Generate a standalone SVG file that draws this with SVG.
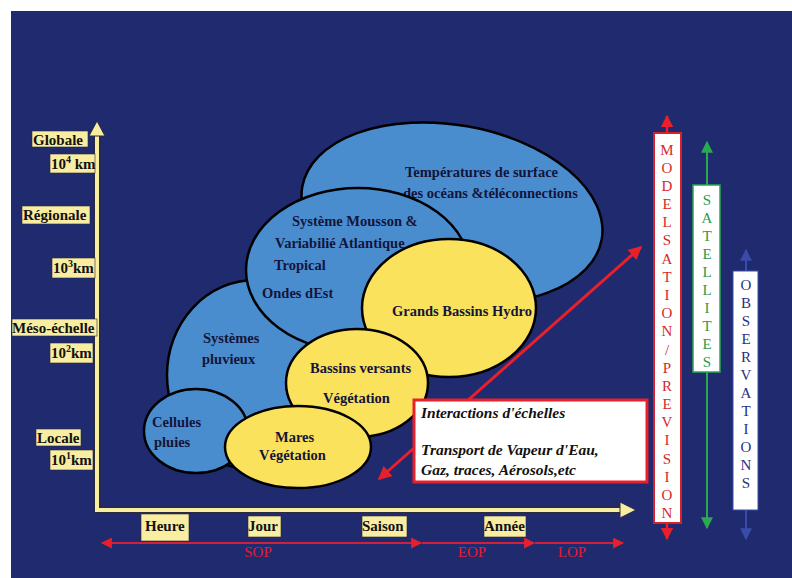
<svg xmlns="http://www.w3.org/2000/svg" width="792" height="578" viewBox="0 0 792 578">
<style>
.lbl{font-family:"Liberation Serif","Times New Roman",serif;font-weight:bold;font-size:15px;fill:#111}
.et{font-family:"Liberation Serif","Times New Roman",serif;font-weight:bold;font-size:14.5px;fill:#14143a}
.box{fill:#f9eda2;stroke:#2a2a40;stroke-width:0.6}
.blue{fill:#4a8dcf;stroke:#000;stroke-width:2.5}
.yel{fill:#fbe25c;stroke:#000;stroke-width:2.5}
.it{font-family:"Liberation Serif","Times New Roman",serif;font-weight:bold;font-style:italic;font-size:15.5px;fill:#111}
.vt{font-family:"Liberation Serif","Times New Roman",serif;font-size:15px;text-anchor:middle}
.tl{font-family:"Liberation Serif","Times New Roman",serif;font-size:15px;fill:#e0202c;text-anchor:middle}
</style>
<defs>
<marker id="ar" viewBox="0 0 10 10" refX="9" refY="5" markerWidth="5.5" markerHeight="5.5" orient="auto-start-reverse"><path d="M0,0 L10,5 L0,10 z" fill="#e8202c"/></marker>
<marker id="am" viewBox="0 0 10 10" refX="9" refY="5" markerWidth="5" markerHeight="5" orient="auto-start-reverse"><path d="M0,0 L10,5 L0,10 z" fill="#e8202c"/></marker>
<marker id="ag" viewBox="0 0 10 10" refX="9" refY="5" markerWidth="6" markerHeight="6" orient="auto-start-reverse"><path d="M0,0 L10,5 L0,10 z" fill="#2aa852"/></marker>
<marker id="ab" viewBox="0 0 10 10" refX="9" refY="5" markerWidth="6" markerHeight="6" orient="auto-start-reverse"><path d="M0,0 L10,5 L0,10 z" fill="#3a4ca8"/></marker>
<marker id="ad" viewBox="0 0 10 10" refX="9" refY="5" markerWidth="4.5" markerHeight="4.5" orient="auto-start-reverse"><path d="M0,0 L10,5 L0,10 z" fill="#e8202c"/></marker>
</defs>
<rect x="0" y="0" width="792" height="578" fill="#fff"/>
<rect x="11" y="11" width="781" height="567" fill="#1f2a6f"/>

<g id="ellipses">
<g id="e-temperatures"><ellipse class="blue" cx="452" cy="213" rx="152" ry="88" transform="rotate(10 452 213)"/>
<text class="et" x="405" y="177">Températures de  surface</text>
<text class="et" x="403" y="198">des océans &amp;téléconnections</text></g>
<g id="e-systemes"><ellipse class="blue" cx="255" cy="375" rx="88" ry="95"/>
<text class="et" x="203" y="343">Systèmes</text>
<text class="et" x="202" y="364">pluvieux</text></g>
<g id="e-mousson"><ellipse class="blue" cx="358" cy="270" rx="112" ry="82"/>
<text class="et" x="292" y="226">Système Mousson &amp;</text>
<text class="et" x="275" y="248">Variabilié Atlantique</text>
<text class="et" x="274" y="270">Tropical</text>
<text class="et" x="262" y="298">Ondes dEst</text></g>
<g id="e-cellules"><ellipse class="blue" cx="196" cy="431" rx="52" ry="42"/>
<text class="et" x="152" y="427">Cellules</text>
<text class="et" x="154" y="447">pluies</text></g>
<g id="e-grands"><ellipse class="yel" cx="449" cy="308" rx="87" ry="69"/>
<text class="et" x="392" y="316">Grands Bassins Hydro</text></g>
<g id="e-bassins"><ellipse class="yel" cx="357" cy="383" rx="71" ry="54"/>
<text class="et" x="310" y="373">Bassins versants</text>
<text class="et" x="323" y="403">Végétation</text></g>
<g id="e-mares"><ellipse class="yel" cx="298" cy="447" rx="73" ry="41"/>
<text class="et" x="275" y="442">Mares</text>
<text class="et" x="259" y="460">Végétation</text></g>
</g>

<g id="connectors">
<line x1="379" y1="479" x2="641" y2="247" stroke="#e8202c" stroke-width="3" marker-start="url(#ad)" marker-end="url(#ad)"/>
<line x1="667" y1="116" x2="667" y2="539" stroke="#e8202c" stroke-width="2.5" marker-start="url(#am)" marker-end="url(#am)"/>
<line x1="707" y1="142" x2="707" y2="528" stroke="#2aa852" stroke-width="2" marker-start="url(#ag)" marker-end="url(#ag)"/>
<line x1="746" y1="250" x2="746" y2="539" stroke="#3a4ca8" stroke-width="2" marker-start="url(#ab)" marker-end="url(#ab)"/>
<line x1="102" y1="543" x2="421" y2="543" stroke="#d0203c" stroke-width="2" marker-start="url(#ar)" marker-end="url(#ar)"/>
<line x1="422" y1="543" x2="534" y2="543" stroke="#d0203c" stroke-width="2" marker-end="url(#ar)"/>
<line x1="535" y1="543" x2="623" y2="543" stroke="#d0203c" stroke-width="2" marker-end="url(#ar)"/>
</g>

<g id="axes">
<path d="M97,132 L97,510 L622,510" fill="none" stroke="#2a2a40" stroke-width="7"/>
<path d="M97,132 L97,510 L622,510" fill="none" stroke="#f9eda2" stroke-width="4"/>
<polygon points="89,136 105,136 97,121" fill="#f9eda2" stroke="#2a2a40" stroke-width="1"/>
<polygon points="620,502 620,518 636,510" fill="#f9eda2" stroke="#2a2a40" stroke-width="1"/>
</g>

<g id="y-labels">
<g id="l-globale"><rect class="box" x="32" y="131" width="56" height="16"/><text class="lbl" x="33" y="145">Globale</text></g>
<g id="l-104"><rect class="box" x="50" y="154" width="45" height="19"/><text class="lbl" x="51" y="169">10<tspan font-size="10" dy="-6">4</tspan><tspan dy="6"> km</tspan></text></g>
<g id="l-regionale"><rect class="box" x="22" y="206" width="68" height="18"/><text class="lbl" x="23" y="220">Régionale</text></g>
<g id="l-103"><rect class="box" x="52" y="258" width="43" height="20"/><text class="lbl" x="53" y="273">10<tspan font-size="10" dy="-6">3</tspan><tspan dy="6">km</tspan></text></g>
<g id="l-meso"><rect class="box" x="12" y="319" width="85" height="17"/><text class="lbl" x="12" y="333">Méso-échelle</text></g>
<g id="l-102"><rect class="box" x="50" y="343" width="43" height="20"/><text class="lbl" x="51" y="358">10<tspan font-size="10" dy="-6">2</tspan><tspan dy="6">km</tspan></text></g>
<g id="l-locale"><rect class="box" x="36" y="429" width="45" height="17"/><text class="lbl" x="37" y="443">Locale</text></g>
<g id="l-101"><rect class="box" x="50" y="450" width="43" height="20"/><text class="lbl" x="51" y="465">10<tspan font-size="10" dy="-6">1</tspan><tspan dy="6">km</tspan></text></g>
</g>

<g id="x-labels">
<g id="l-heure"><rect class="box" x="141" y="514" width="48" height="27"/><text class="lbl" x="145" y="531">Heure</text></g>
<g id="l-jour"><rect class="box" x="248" y="516" width="33" height="21"/><text class="lbl" x="248" y="531">Jour</text></g>
<g id="l-saison"><rect class="box" x="362" y="516" width="45" height="21"/><text class="lbl" x="362" y="531">Saison</text></g>
<g id="l-annee"><rect class="box" x="484" y="516" width="42" height="21"/><text class="lbl" x="484" y="531">Année</text></g>
<text class="tl" x="258" y="557">SOP</text>
<text class="tl" x="472" y="557">EOP</text>
<text class="tl" x="572" y="557">LOP</text>
</g>

<g id="interactions">
<rect x="414" y="400" width="233" height="82" fill="#fff" stroke="#e8202c" stroke-width="3"/>
<text class="it" x="421" y="418">Interactions d'échelles</text>
<text class="it" x="421" y="455">Transport de Vapeur d'Eau,</text>
<text class="it" x="421" y="475">Gaz, traces, Aérosols,etc</text>
</g>

<g id="modelisation">
<rect x="654" y="133" width="27" height="390" fill="#fff" stroke="#d8202c" stroke-width="2"/>
<text class="vt" fill="#d42a2a">
<tspan x="667" y="155">M</tspan><tspan x="667" y="173">O</tspan><tspan x="667" y="191">D</tspan><tspan x="667" y="209">E</tspan><tspan x="667" y="227">L</tspan><tspan x="667" y="245">S</tspan><tspan x="667" y="264">A</tspan><tspan x="667" y="282">T</tspan><tspan x="667" y="300">I</tspan><tspan x="667" y="318">O</tspan><tspan x="667" y="336">N</tspan><tspan x="667" y="355">/</tspan><tspan x="667" y="373">P</tspan><tspan x="667" y="391">R</tspan><tspan x="667" y="409">E</tspan><tspan x="667" y="427">V</tspan><tspan x="667" y="445">I</tspan><tspan x="667" y="464">S</tspan><tspan x="667" y="482">I</tspan><tspan x="667" y="500">O</tspan><tspan x="667" y="518">N</tspan>
</text>
</g>

<g id="satellites">
<rect x="693" y="185" width="27" height="187" fill="#fff" stroke="#2aa852" stroke-width="1.5"/>
<text class="vt" fill="#2a9a50">
<tspan x="707" y="205">S</tspan><tspan x="707" y="223">A</tspan><tspan x="707" y="241">T</tspan><tspan x="707" y="259">E</tspan><tspan x="707" y="277">L</tspan><tspan x="707" y="295">L</tspan><tspan x="707" y="313">I</tspan><tspan x="707" y="331">T</tspan><tspan x="707" y="349">E</tspan><tspan x="707" y="367">S</tspan>
</text>
</g>

<g id="observations">
<rect x="733" y="271" width="25" height="239" fill="#fff" stroke="#3a4ca8" stroke-width="1"/>
<text class="vt" fill="#2a3080">
<tspan x="746" y="290">O</tspan><tspan x="746" y="308">B</tspan><tspan x="746" y="326">S</tspan><tspan x="746" y="344">E</tspan><tspan x="746" y="362">R</tspan><tspan x="746" y="380">V</tspan><tspan x="746" y="398">A</tspan><tspan x="746" y="416">T</tspan><tspan x="746" y="434">I</tspan><tspan x="746" y="452">O</tspan><tspan x="746" y="470">N</tspan><tspan x="746" y="488">S</tspan>
</text>
</g>
</svg>
